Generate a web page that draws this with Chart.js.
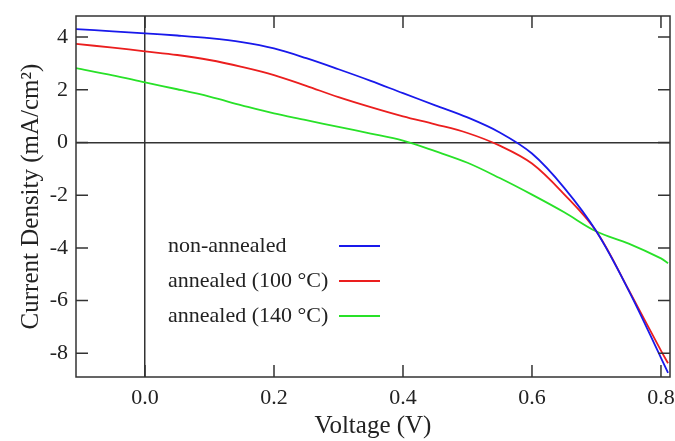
<!DOCTYPE html>
<html>
<head>
<meta charset="utf-8">
<script src="https://cdn.jsdelivr.net/npm/chart.js@4"></script>
<style>
  body { margin: 0; background: #fff; }
  #wrap { width: 675px; height: 441px; }
</style>
</head>
<body>
<div id="wrap"><canvas id="jvChart" width="675" height="441"></canvas></div>
<script>
// voltage (V) and current density (mA/cm2)
const voltage     = [-0.107, -0.05, 0.0, 0.05, 0.1, 0.15, 0.2, 0.25, 0.3, 0.35, 0.4, 0.45, 0.5, 0.55, 0.6, 0.65, 0.7, 0.75, 0.8, 0.811];
const nonAnnealed = [4.30, 4.22, 4.14, 4.06, 3.96, 3.81, 3.57, 3.20, 2.78, 2.34, 1.87, 1.41, 0.95, 0.38, -0.42, -1.72, -3.38, -5.62, -8.17, -8.74];
const annealed100 = [3.74, 3.60, 3.46, 3.32, 3.13, 2.87, 2.56, 2.15, 1.72, 1.34, 0.99, 0.69, 0.36, -0.12, -0.80, -1.97, -3.38, -5.6, -7.9, -8.38];
const annealed140 = [2.82, 2.55, 2.28, 2.02, 1.74, 1.41, 1.10, 0.85, 0.59, 0.34, 0.07, -0.33, -0.77, -1.35, -1.98, -2.65, -3.38, -3.84, -4.4, -4.58];
const seriesNames = ["non-annealed", "annealed (100 \u00B0C)", "annealed (140 \u00B0C)"];
const xTicks = [0.0, 0.2, 0.4, 0.6, 0.8];
const yTicks = [-8, -6, -4, -2, 0, 2, 4];

const serif = "'Liberation Serif', 'Times New Roman', serif";

function toPoints(ys) {
    return voltage.map((v, i) => ({ x: v, y: ys[i] }));
}

const frameTicks = {
    id: "frameTicks",
    afterDraw(chart) {
        const { ctx, chartArea: { left, right, top, bottom }, scales: { x, y } } = chart;
        ctx.save();
        ctx.strokeStyle = "#333";
        ctx.lineWidth = 1.5;
        ctx.strokeRect(left, top, right - left, bottom - top);
        const len = 12;
        ctx.beginPath();
        xTicks.forEach(v => {
            const px = x.getPixelForValue(v);
            ctx.moveTo(px, bottom); ctx.lineTo(px, bottom - len);
            ctx.moveTo(px, top); ctx.lineTo(px, top + len);
        });
        yTicks.forEach(v => {
            const py = y.getPixelForValue(v);
            ctx.moveTo(left, py); ctx.lineTo(left + len, py);
            ctx.moveTo(right, py); ctx.lineTo(right - len, py);
        });
        ctx.stroke();

        // legend inside the plot
        ctx.font = "22px " + serif;
        ctx.fillStyle = "#222";
        ctx.textBaseline = "middle";
        chart.data.datasets.forEach((ds, i) => {
            const ty = top + 230 + i * 35;
            ctx.fillText(ds.label, left + 92, ty);
            ctx.strokeStyle = ds.borderColor;
            ctx.lineWidth = 2;
            ctx.beginPath();
            ctx.moveTo(left + 263, ty);
            ctx.lineTo(left + 304, ty);
            ctx.stroke();
        });
        ctx.restore();
    }
};

const zeroLine = ctx => (ctx.tick && ctx.tick.value === 0) ? "#333" : "rgba(0,0,0,0)";

new Chart(document.getElementById("jvChart"), {
    type: "line",
    data: {
        datasets: [
            { label: seriesNames[0], data: toPoints(nonAnnealed), borderColor: "rgb(25,25,235)" },
            { label: seriesNames[1], data: toPoints(annealed100), borderColor: "rgb(235,30,30)" },
            { label: seriesNames[2], data: toPoints(annealed140), borderColor: "rgb(40,225,40)" }
        ]
    },
    options: {
        responsive: false,
        animation: false,
        layout: { padding: { top: 16, right: 5, left: 0, bottom: 0 } },
        elements: {
            point: { radius: 0 },
            line: { borderWidth: 1.8, tension: 0.35, fill: false }
        },
        plugins: { legend: { display: false }, tooltip: { enabled: false } },
        scales: {
            x: {
                type: "linear",
                min: -0.107,
                max: 0.814,
                afterFit: s => { s.height = 64; s.paddingLeft = 0; s.paddingRight = 0; },
                ticks: {
                    stepSize: 0.2,
                    includeBounds: false,
                    padding: 8,
                    color: "#222",
                    font: { family: serif, size: 22 },
                    callback: v => v.toFixed(1)
                },
                grid: { drawTicks: false, color: zeroLine, lineWidth: 1.5 },
                border: { display: false },
                title: {
                    display: true,
                    text: "Voltage (V)",
                    color: "#222",
                    font: { family: serif, size: 25 },
                    padding: { top: 0, bottom: 0 }
                }
            },
            y: {
                type: "linear",
                min: -8.9,
                max: 4.8,
                afterFit: s => { s.width = 76; s.paddingTop = 0; s.paddingBottom = 0; },
                ticks: {
                    stepSize: 2,
                    includeBounds: false,
                    padding: 8,
                    color: "#222",
                    font: { family: serif, size: 22 },
                    callback: v => String(v)
                },
                grid: { drawTicks: false, color: zeroLine, lineWidth: 1.5 },
                border: { display: false },
                title: {
                    display: true,
                    text: "Current Density (mA/cm\u00B2)",
                    color: "#222",
                    font: { family: serif, size: 25 },
                    padding: { top: 16, bottom: 0 }
                }
            }
        }
    },
    plugins: [frameTicks]
});
</script>
</body>
</html>
